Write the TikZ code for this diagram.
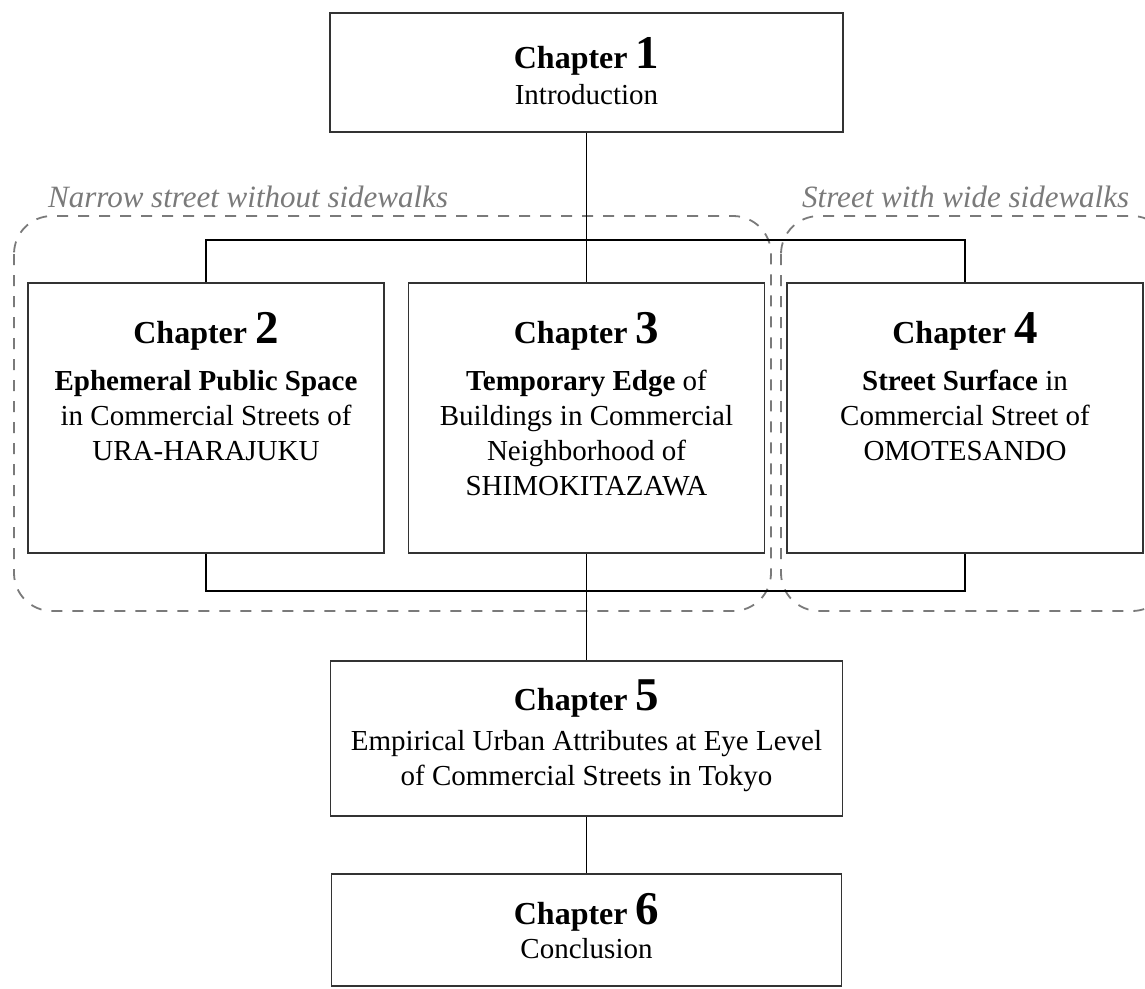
\documentclass[tikz,border=0pt]{standalone}
\usepackage{fontspec}
\setmainfont{Liberation Serif}
\usetikzlibrary{positioning}
\definecolor{boxline}{HTML}{333333}
\definecolor{zonegray}{HTML}{7A7A7A}
\newcommand{\chapnum}[1]{{\fontsize{32}{35}\selectfont\bfseries Chapter }{\fontsize{47}{47}\selectfont\bfseries #1}}

\begin{document}
\begin{tikzpicture}[x=1pt, y=-1pt,
    chapbox/.style={draw=boxline, line width=1.6pt, minimum width=356, inner sep=0pt},
    head/.style={anchor=base, inner sep=0pt},
    body/.style={anchor=north, inner sep=0pt, align=center, font=\fontsize{29}{35}\selectfont},
    link/.style={line width=1.6pt},
    zone/.style={draw=zonegray, line width=1.8pt, dash pattern=on 11pt off 10pt, rounded corners=38pt},
    zonelabel/.style={anchor=base west, inner sep=0pt, text=zonegray, font=\fontsize{31}{35}\selectfont\itshape}]
    \useasboundingbox (0,0) rectangle (1145,988);
    \clip (0,0) rectangle (1145,988);

    % street type zones
    \draw[zone] (14,216) rectangle (771,611);
    \draw[zone] (781,216) rectangle (1170,611);
    \node[zonelabel] (narrow) at (48,207) {Narrow street without sidewalks};
    \node[zonelabel] (wide) at (802,207) {Street with wide sidewalks};

    % chapter boxes
    \node[chapbox, minimum width=513, minimum height=119] (ch1) at (586.5,72.5) {};
    \node[chapbox, minimum height=270] (ch2) at (206,418) {};
    \node[chapbox, minimum height=270] (ch3) at (586.5,418) {};
    \node[chapbox, minimum height=270] (ch4) at (965,418) {};
    \node[chapbox, minimum width=512, minimum height=155] (ch5) at (586.5,738.5) {};
    \node[chapbox, minimum width=510, minimum height=112] (ch6) at (586.5,930) {};

    \node[head] (h1) at (586.5,68) {\chapnum{1}};
    \node[body] (t1) at (586.5,84) {Introduction};

    \node[head] (h2) at (206,343) {\chapnum{2}};
    \node[body] (t2) at (206,370) {\textbf{Ephemeral Public Space}\\in Commercial Streets of\\URA-HARAJUKU};

    \node[head] (h3) at (586.5,343) {\chapnum{3}};
    \node[body] (t3) at (586.5,370) {\textbf{Temporary Edge} of\\Buildings in Commercial\\Neighborhood of\\SHIMOKITAZAWA};

    \node[head] (h4) at (965,343) {\chapnum{4}};
    \node[body] (t4) at (965,370) {\textbf{Street Surface} in\\Commercial Street of\\OMOTESANDO};

    \node[head] (h5) at (586.5,710) {\chapnum{5}};
    \node[body] (t5) at (586.5,730) {Empirical Urban Attributes at Eye Level\\of Commercial Streets in Tokyo};

    \node[head] (h6) at (586.5,924) {\chapnum{6}};
    \node[body] (t6) at (586.5,938) {Conclusion};

    % connectors
    \coordinate (bustop) at (586.5,240);
    \coordinate (busbot) at (586.5,591);
    \draw[link] (ch1) -- (ch3);
    \draw[link] (ch2.north) |- (bustop) -| (ch4.north);
    \draw[link] (ch2.south) |- (busbot) -| (ch4.south);
    \draw[link] (ch3) -- (ch5);
    \draw[link] (ch5) -- (ch6);
\end{tikzpicture}
\end{document}
